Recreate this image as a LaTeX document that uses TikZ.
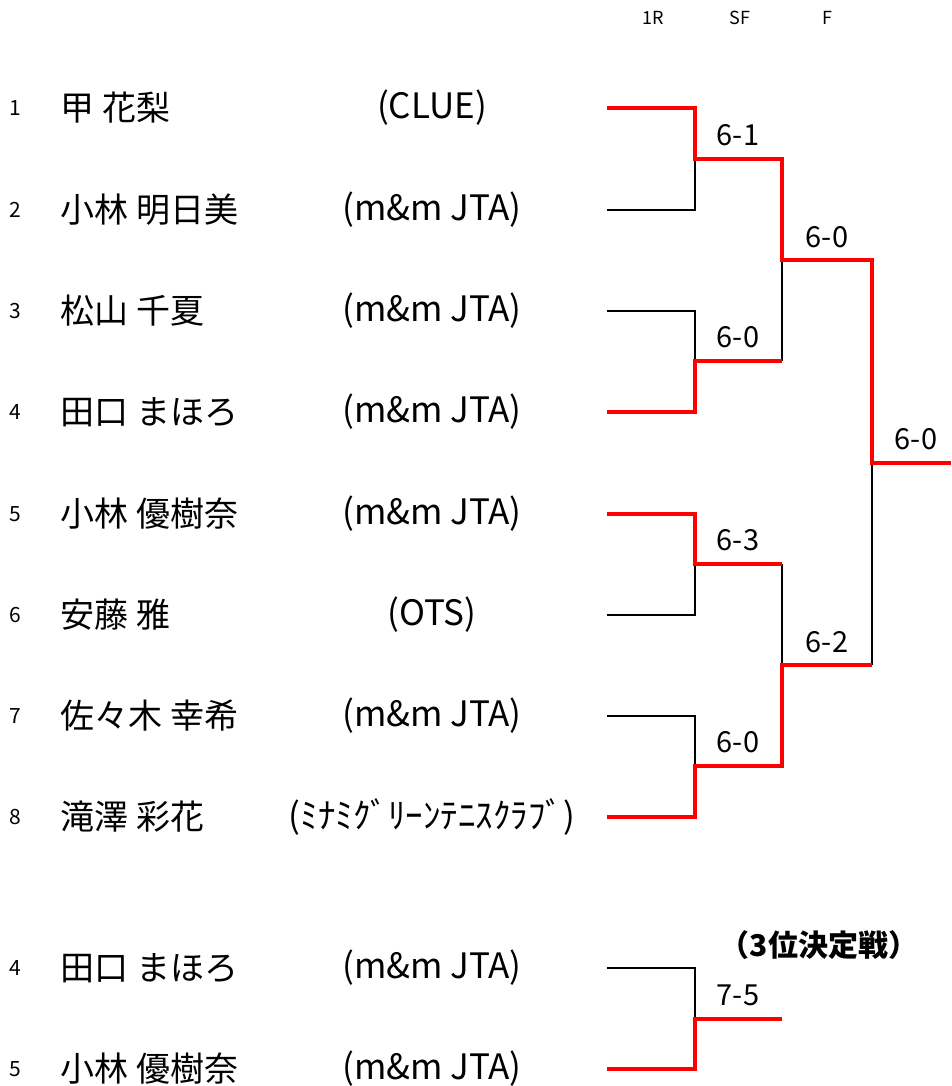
\documentclass[tikz,border=0pt]{standalone}
\usepackage{fontspec}
\setmainfont{Noto Sans CJK JP}
\begin{document}
\begin{tikzpicture}[x=1pt,y=-1pt,
  win/.style={draw=red,line width=3.5pt,line join=miter},
  lose/.style={draw=black,line width=2pt},
  seed/.style={font=\fontsize{21}{24}\selectfont,anchor=center},
  pname/.style={font=\fontsize{34}{38}\selectfont,anchor=west},
  club/.style={font=\fontsize{35}{40}\selectfont,anchor=center},
  score/.style={font=\fontsize{29}{32}\selectfont,anchor=center},
  head/.style={font=\fontsize{18}{20}\selectfont,anchor=center}]
\useasboundingbox (0,0) rectangle (951,1086);

% header
\node[head] (h1) at (653,18) {1R};
\node[head] (h2) at (740,18) {SF};
\node[head] (h3) at (827,18) {F};

% players
\foreach \i/\n/\yy/\nm/\cl in {
  a/1/108/{甲 花梨}/{(CLUE)},
  b/2/210/{小林 明日美}/{(m\&m JTA)},
  c/3/311/{松山 千夏}/{(m\&m JTA)},
  d/4/412/{田口 まほろ}/{(m\&m JTA)},
  e/5/514/{小林 優樹奈}/{(m\&m JTA)},
  f/6/615/{安藤 雅}/{(OTS)},
  g/7/716/{佐々木 幸希}/{(m\&m JTA)},
  h/8/817/{滝澤 彩花}/{(ﾐﾅﾐｸﾞﾘｰﾝﾃﾆｽｸﾗﾌﾞ)},
  i/4/968/{田口 まほろ}/{(m\&m JTA)},
  j/5/1069/{小林 優樹奈}/{(m\&m JTA)}}{
  \node[seed] (n\i) at (15,\yy) {\n};
  \node[pname] (p\i) at (57,\yy) {\nm};
  \node[club] (c\i) at (432,\yy) {\cl};
  \coordinate (s\i) at (607,\yy);
}

% junctions
\coordinate (m1) at (695,159);
\coordinate (m2) at (695,361);
\coordinate (m3) at (695,564);
\coordinate (m4) at (695,766);
\coordinate (m5) at (695,1019);
\coordinate (q1) at (782,260);
\coordinate (q2) at (782,665);
\coordinate (fj) at (872,463);
\coordinate (fe) at (951,463);

% losers (black)
\draw[lose] (sb) -| (m1);
\draw[lose] (sc) -| (m2);
\draw[lose] (m2 -| q1) -- (q1);
\draw[lose] (sf) -| (m3);
\draw[lose] (sg) -| (m4);
\draw[lose] (m3 -| q2) -- (q2);
\draw[lose] (q2 -| fj) -- (fj);
\draw[lose] (si) -| (m5);

% winners (red)
\draw[win] (sa) -| (m1) -| (q1) -| (fj) -- (fe);
\draw[win] (sd) -| (m2) -- (m2 -| q1);
\draw[win] (se) -| (m3) -- (m3 -| q2);
\draw[win] (sh) -| (m4) -| (q2) -- (q2 -| fj);
\draw[win] (sj) -| (m5) -- (m5 -| q1);

% scores
\node[score] (r1) at (738,135) {6-1};
\node[score] (r2) at (738,337) {6-0};
\node[score] (r3) at (738,540) {6-3};
\node[score] (r4) at (738,742) {6-0};
\node[score] (r5) at (827,237) {6-0};
\node[score] (r6) at (827,642) {6-2};
\node[score] (r7) at (916,439) {6-0};
\node[score] (r8) at (738,995) {7-5};
\node[font=\fontsize{30}{33}\selectfont\bfseries,anchor=center] (t3) at (819,945) {（3位決定戦）};
\end{tikzpicture}
\end{document}
